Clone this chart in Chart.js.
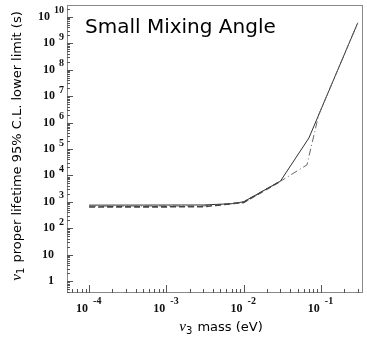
<!DOCTYPE html>
<html>
<head>
<meta charset="utf-8">
<script src="https://cdn.jsdelivr.net/npm/chart.js@4/dist/chart.umd.min.js"></script>
<style>
html,body{margin:0;padding:0;background:#fff;}
canvas{display:block;}
</style>
</head>
<body>
<canvas id="c" width="367" height="337"></canvas>
<script>
// ---- data ----
const chartTitle = 'Small Mixing Angle';
const xTitleParts = ['ν', '3', ' mass (eV)'];
const yTitleParts = ['ν', '1', ' proper lifetime 95% C.L. lower limit (s)'];

const solidMass = [1e-4, 3e-3, 7e-3, 1e-2, 0.03, 0.07, 0.30];
const solidLife = [750, 760, 850, 1000, 6100, 2.6e5, 5.9e9];

const dashedMass = [1e-4, 3e-3, 1e-2, 0.03];
const dashedLife = [640, 650, 950, 6000];

const dashDotMass = [1e-4, 3e-3, 1e-2, 0.03, 0.066, 0.094, 0.30];
const dashDotLife = [690, 700, 930, 6000, 2.5e4, 2.0e6, 5.9e9];

const xTickValues = [1e-4, 1e-3, 1e-2, 1e-1];
const xTickLabels = ['10^-4', '10^-3', '10^-2', '10^-1'];
const yTickValues = [1, 10, 1e2, 1e3, 1e4, 1e5, 1e6, 1e7, 1e8, 1e9, 1e10];
const yTickLabels = ['1', '10', '10^2', '10^3', '10^4', '10^5', '10^6', '10^7', '10^8', '10^9', '10^10'];

const xMin = 5.18e-5, xMax = 0.351;
const yMin = 0.355, yMax = 2.8e10;

function pts(xs, ys) { return xs.map((x, i) => ({x: x, y: ys[i]})); }

const SERIF = '"Liberation Serif", "DejaVu Serif", serif';
const SANS = '"DejaVu Sans", sans-serif';

const decor = {
  id: 'decor',
  afterDatasetsDraw(chart) {
    const ctx = chart.ctx;
    const a = chart.chartArea;
    const xs = chart.scales.x, ys = chart.scales.y;
    ctx.save();
    // frame
    ctx.strokeStyle = '#888';
    ctx.lineWidth = 1;
    ctx.strokeRect(a.left + 0.5, a.top + 0.5, a.right - a.left - 1, a.bottom - a.top - 1);
    // ticks
    ctx.strokeStyle = '#555';
    ctx.beginPath();
    for (let e = -5; e <= 0; e++) {
      for (let k = 1; k <= 9; k++) {
        const v = k * Math.pow(10, e);
        if (v < xMin || v > xMax) continue;
        const px = Math.round(xs.getPixelForValue(v)) + 0.5;
        const len = k === 1 ? 8 : 4;
        ctx.moveTo(px, a.bottom);
        ctx.lineTo(px, a.bottom - len);
      }
    }
    for (let e = -1; e <= 10; e++) {
      for (let k = 1; k <= 9; k++) {
        const v = k * Math.pow(10, e);
        if (v < yMin || v > yMax) continue;
        const py = Math.round(ys.getPixelForValue(v)) + 0.5;
        const len = k === 1 ? 6 : 3;
        ctx.moveTo(a.left, py);
        ctx.lineTo(a.left + len, py);
      }
    }
    ctx.stroke();

    // tick labels
    ctx.fillStyle = '#111';
    xTickValues.forEach((v, i) => {
      const px = xs.getPixelForValue(v);
      const parts = xTickLabels[i].split('^');
      ctx.font = 'bold 12px ' + SERIF;
      ctx.textAlign = 'right';
      ctx.textBaseline = 'alphabetic';
      ctx.fillText(parts[0], px - 1, 312);
      if (parts[1]) {
        ctx.font = 'bold 10px ' + SERIF;
        ctx.textAlign = 'left';
        ctx.fillText(parts[1], px + 4, 304);
      }
    });
    yTickValues.forEach((v, i) => {
      const py = ys.getPixelForValue(v);
      const parts = yTickLabels[i].split('^');
      ctx.textBaseline = 'middle';
      if (parts[1]) {
        ctx.font = 'bold 10px ' + SERIF;
        ctx.textAlign = 'right';
        const w = ctx.measureText(parts[1]).width;
        ctx.fillText(parts[1], 64, py - 6);
        ctx.font = 'bold 12px ' + SERIF;
        ctx.fillText(parts[0], 64 - w - 4, py);
      } else {
        ctx.font = 'bold 12px ' + SERIF;
        ctx.textAlign = 'right';
        ctx.fillText(parts[0], 54, py);
      }
    });

    // title inside plot
    ctx.font = '20px ' + SANS;
    ctx.textAlign = 'left';
    ctx.textBaseline = 'alphabetic';
    ctx.fillStyle = '#000';
    ctx.fillText(chartTitle, 85, 33);

    // axis titles with subscripts
    function drawTitle(parts, size) {
      ctx.font = 'italic ' + (size + 2) + 'px ' + SERIF;
      const w0 = ctx.measureText(parts[0]).width;
      ctx.font = (size - 3) + 'px ' + SANS;
      const w1 = ctx.measureText(parts[1]).width;
      ctx.font = size + 'px ' + SANS;
      const w2 = ctx.measureText(parts[2]).width;
      const total = w0 + w1 + 1 + w2;
      let x = -total / 2;
      ctx.textAlign = 'left';
      ctx.textBaseline = 'alphabetic';
      ctx.font = 'italic ' + (size + 2) + 'px ' + SERIF;
      ctx.fillText(parts[0], x, 0);
      x += w0;
      ctx.font = (size - 3) + 'px ' + SANS;
      ctx.fillText(parts[1], x, 3);
      x += w1 + 1;
      ctx.font = size + 'px ' + SANS;
      ctx.fillText(parts[2], x, 0);
    }
    ctx.save();
    ctx.translate(221, 331);
    drawTitle(xTitleParts, 13);
    ctx.restore();
    ctx.save();
    ctx.translate(21, 146);
    ctx.rotate(-Math.PI / 2);
    drawTitle(yTitleParts, 13);
    ctx.restore();

    ctx.restore();
  }
};

new Chart(document.getElementById('c'), {
  type: 'line',
  data: {
    datasets: [
      { label: 'dashed', data: pts(dashedMass, dashedLife), borderColor: '#444', borderWidth: 1.6, borderDash: [6, 3], pointRadius: 0, tension: 0, fill: false },
      { label: 'dash-dot', data: pts(dashDotMass, dashDotLife), borderColor: '#666', borderWidth: 1, borderDash: [7, 3, 1, 3], pointRadius: 0, tension: 0, fill: false },
      { label: 'solid', data: pts(solidMass, solidLife), borderColor: '#333', borderWidth: 1, pointRadius: 0, tension: 0, fill: false }
    ]
  },
  options: {
    responsive: false,
    animation: false,
    layout: { padding: { left: 67, right: 4, top: 5, bottom: 44 } },
    plugins: { legend: { display: false }, tooltip: { enabled: false }, title: { display: false } },
    scales: {
      x: { type: 'logarithmic', min: xMin, max: xMax, display: false },
      y: { type: 'logarithmic', min: yMin, max: yMax, display: false }
    }
  },
  plugins: [decor]
});
</script>
</body>
</html>
